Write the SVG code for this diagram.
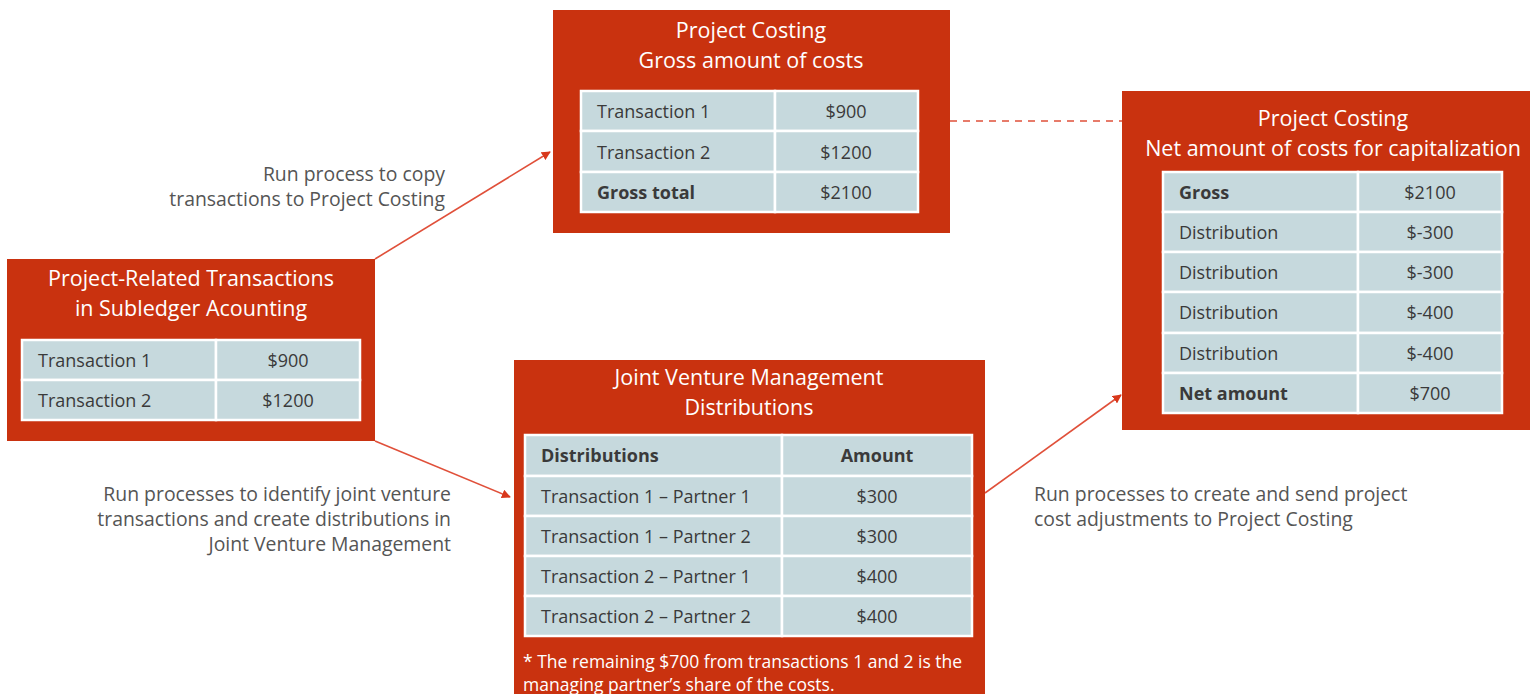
<svg xmlns="http://www.w3.org/2000/svg" width="1530" height="694" viewBox="0 0 1530 694">
<defs>
<style>
.box{fill:#C9320F}
.title{font-family:"Open Sans","Liberation Sans",sans-serif;font-size:21.5px;fill:#fff;text-anchor:middle}
.cell{fill:#C6D9DD;stroke:#fff;stroke-width:2.5}
.t{font-family:"Open Sans","Liberation Sans",sans-serif;font-size:18px;fill:#3a3a3a}
.v{font-family:"Open Sans","Liberation Sans",sans-serif;font-size:18px;fill:#3a3a3a;text-anchor:middle}
.b{font-weight:bold}
.lbl{font-family:"Open Sans","Liberation Sans",sans-serif;font-size:19.4px;fill:#555}
.note{font-family:"Open Sans","Liberation Sans",sans-serif;font-size:17.5px;fill:#fff}
.conn{stroke:#E0503A;stroke-width:1.6;fill:none}
</style>
<marker id="arr" viewBox="0 0 10 10" refX="9" refY="5" markerWidth="9" markerHeight="9" markerUnits="userSpaceOnUse" orient="auto">
<path d="M0,0 L10,5 L0,10 z" fill="#D8381C"/>
</marker>
</defs>
<rect width="1530" height="694" fill="#fff"/>

<g id="connectors">
<line class="conn" x1="375" y1="259" x2="550" y2="152" marker-end="url(#arr)"/>
<line class="conn" x1="375" y1="441" x2="510" y2="497" marker-end="url(#arr)"/>
<line class="conn" x1="985" y1="493" x2="1121" y2="395" marker-end="url(#arr)"/>
<line class="conn" x1="950" y1="121" x2="1122" y2="121" stroke-dasharray="7,6"/>
</g>

<g id="label-copy">
<text class="lbl" x="445" y="181" text-anchor="end">Run process to copy</text>
<text class="lbl" x="445" y="206" text-anchor="end">transactions to Project Costing</text>
</g>
<g id="label-identify">
<text class="lbl" x="451" y="501" text-anchor="end">Run processes to identify joint venture</text>
<text class="lbl" x="451" y="526" text-anchor="end">transactions and create distributions in</text>
<text class="lbl" x="451" y="551" text-anchor="end">Joint Venture Management</text>
</g>
<g id="label-adjust">
<text class="lbl" x="1034" y="501">Run processes to create and send project</text>
<text class="lbl" x="1034" y="526">cost adjustments to Project Costing</text>
</g>

<g id="gross">
<rect class="box" x="553" y="10" width="397" height="223"/>
<text class="title" x="751" y="38">Project Costing</text>
<text class="title" x="751" y="68">Gross amount of costs</text>
<rect class="cell" x="581" y="91" width="194" height="40"/><rect class="cell" x="775" y="91" width="143" height="40"/>
<rect class="cell" x="581" y="131" width="194" height="41"/><rect class="cell" x="775" y="131" width="143" height="41"/>
<rect class="cell" x="581" y="172" width="194" height="40"/><rect class="cell" x="775" y="172" width="143" height="40"/>
<text class="t" x="597" y="118">Transaction 1</text><text class="v" x="846" y="118">$900</text>
<text class="t" x="597" y="159">Transaction 2</text><text class="v" x="846" y="159">$1200</text>
<text class="t b" x="597" y="199">Gross total</text><text class="v" x="846" y="199">$2100</text>
</g>

<g id="subledger">
<rect class="box" x="7" y="259" width="368" height="182"/>
<text class="title" x="191" y="286">Project-Related Transactions</text>
<text class="title" x="191" y="316">in Subledger Acounting</text>
<rect class="cell" x="22" y="340" width="194" height="40"/><rect class="cell" x="216" y="340" width="144" height="40"/>
<rect class="cell" x="22" y="380" width="194" height="40"/><rect class="cell" x="216" y="380" width="144" height="40"/>
<text class="t" x="38" y="367">Transaction 1</text><text class="v" x="288" y="367">$900</text>
<text class="t" x="38" y="407">Transaction 2</text><text class="v" x="288" y="407">$1200</text>
</g>

<g id="jv">
<rect class="box" x="514" y="360" width="471" height="340"/>
<text class="title" x="749" y="385">Joint Venture Management</text>
<text class="title" x="749" y="415">Distributions</text>
<rect class="cell" x="525" y="435" width="257" height="41"/><rect class="cell" x="782" y="435" width="190" height="41"/>
<rect class="cell" x="525" y="476" width="257" height="40"/><rect class="cell" x="782" y="476" width="190" height="40"/>
<rect class="cell" x="525" y="516" width="257" height="40"/><rect class="cell" x="782" y="516" width="190" height="40"/>
<rect class="cell" x="525" y="556" width="257" height="40"/><rect class="cell" x="782" y="556" width="190" height="40"/>
<rect class="cell" x="525" y="596" width="257" height="40"/><rect class="cell" x="782" y="596" width="190" height="40"/>
<text class="t b" x="541" y="462">Distributions</text><text class="v b" x="877" y="462">Amount</text>
<text class="t" x="541" y="503">Transaction 1 – Partner 1</text><text class="v" x="877" y="503">$300</text>
<text class="t" x="541" y="543">Transaction 1 – Partner 2</text><text class="v" x="877" y="543">$300</text>
<text class="t" x="541" y="583">Transaction 2 – Partner 1</text><text class="v" x="877" y="583">$400</text>
<text class="t" x="541" y="623">Transaction 2 – Partner 2</text><text class="v" x="877" y="623">$400</text>
<text class="note" x="523" y="668">* The remaining $700 from transactions 1 and 2 is the</text>
<text class="note" x="523" y="691">managing partner’s share of the costs.</text>
</g>

<g id="net">
<rect class="box" x="1122" y="91" width="410" height="339"/>
<text class="title" x="1333" y="126">Project Costing</text>
<text class="title" x="1333" y="156">Net amount of costs for capitalization</text>
<rect class="cell" x="1163" y="172" width="195" height="40"/><rect class="cell" x="1358" y="172" width="144" height="40"/>
<rect class="cell" x="1163" y="212" width="195" height="40"/><rect class="cell" x="1358" y="212" width="144" height="40"/>
<rect class="cell" x="1163" y="252" width="195" height="40"/><rect class="cell" x="1358" y="252" width="144" height="40"/>
<rect class="cell" x="1163" y="292" width="195" height="41"/><rect class="cell" x="1358" y="292" width="144" height="41"/>
<rect class="cell" x="1163" y="333" width="195" height="40"/><rect class="cell" x="1358" y="333" width="144" height="40"/>
<rect class="cell" x="1163" y="373" width="195" height="40"/><rect class="cell" x="1358" y="373" width="144" height="40"/>
<text class="t b" x="1179" y="199">Gross</text><text class="v" x="1430" y="199">$2100</text>
<text class="t" x="1179" y="239">Distribution</text><text class="v" x="1430" y="239">$-300</text>
<text class="t" x="1179" y="279">Distribution</text><text class="v" x="1430" y="279">$-300</text>
<text class="t" x="1179" y="319">Distribution</text><text class="v" x="1430" y="319">$-400</text>
<text class="t" x="1179" y="360">Distribution</text><text class="v" x="1430" y="360">$-400</text>
<text class="t b" x="1179" y="400">Net amount</text><text class="v" x="1430" y="400">$700</text>
</g>
</svg>
